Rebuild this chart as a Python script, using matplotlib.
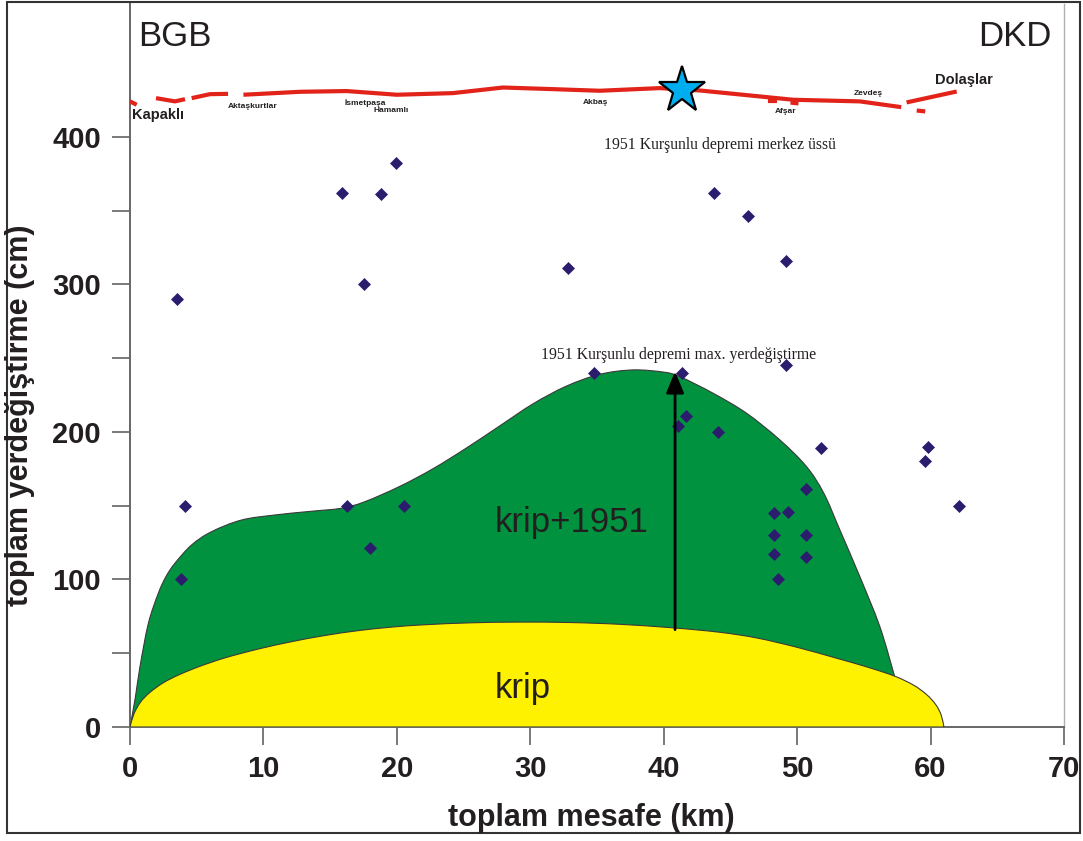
import matplotlib
matplotlib.use("Agg")
import matplotlib.pyplot as plt
from matplotlib.patches import PathPatch, Rectangle
from matplotlib.path import Path

# ---------------- data ----------------
# scattered displacement measurements (km, cm)
pts_x = [3.5, 4.1, 3.8, 15.9, 17.5, 18.8, 19.9, 16.3, 18.0, 20.5, 32.8, 34.8,
         41.4, 41.1, 41.7, 44.1, 43.8, 46.3, 49.2, 49.2, 51.8, 50.7, 48.3,
         49.3, 48.3, 50.7, 48.3, 50.7, 48.6, 59.6, 59.8, 62.1]
pts_y = [290, 150, 100, 362, 300, 361, 382, 150, 121, 150, 311, 240,
         240, 204, 211, 200, 362, 346, 316, 245, 189, 161, 145,
         146, 130, 130, 117, 115, 100, 180, 190, 150]

# creep envelope (yellow)
creep_x = [0, 0.3, 0.8, 1.5, 2.5, 3.7, 5.2, 7.1, 9.6, 12.1, 14.6, 17.1, 19.6,
           22.1, 25.5, 29.2, 33, 36.7, 40.7, 44.2, 47, 50, 53, 55.3, 57.3,
           58.7, 59.7, 60.4, 60.8, 61]
creep_y = [0, 9, 17, 23.5, 30, 35.5, 41, 46.8, 52.8, 57.8, 62, 65.3, 67.7,
           69.3, 70.6, 71.1, 70.8, 69.6, 67.2, 64.2, 60.3, 54, 46.5, 40.5, 34.5,
           28.5, 22, 15, 8, 0]

# creep + 1951 envelope (green)
tot_x = [0, 0.4, 0.75, 1.37, 2.12, 2.7, 3.37, 4.62, 6.12, 8.37, 10.87,
         13.34, 15.87, 17.6, 20.2, 22.7, 25.2, 27.7, 30.2, 32.7, 35.2,
         37.7, 40, 41.2, 43.7, 46.2, 48.7, 50.7, 52, 53.2, 54.7, 56.2, 57.3]
tot_y = [0, 20, 41, 70, 90.6, 102, 111, 123.4, 132.4, 140.3, 143.7,
         146, 148.3, 152.7, 163, 175, 189, 204, 219, 231, 239,
         242, 240.5, 237.5, 226.2, 212.7, 194.6, 176.5, 158.4, 133.6, 101.9, 68, 34.5]

# surface fault trace segments (km, plotted height)
fault_segments = [
    ([0, 0.5], [424, 421.7]),
    ([1.95, 3.37, 4.12], [426.2, 424, 425.5]),
    ([4.62, 6.0, 7.35], [426.2, 428.9, 429.1]),
    ([8.5, 12.74, 16.24, 20, 24.2, 27.95, 31.7, 35.2, 39.7, 42.7, 47.7, 49.7,
      54.7, 57.8],
     [428.5, 430.5, 431, 428.5, 429.6, 433.4, 432.3, 431.2, 433, 431.4, 426.9,
      425.1, 424, 420.1]),
    ([58.2, 61.96], [423.3, 430.7]),
    ([58.96, 59.6], [417.8, 417.2]),
    ([47.8, 48.5], [424.0, 424.0]),
    ([49.5, 50.1], [423.2, 422.6]),
]

# localities on the fault trace
places = ["Kapaklı", "Aktaşkurtlar", "İsmetpaşa", "Hamamlı", "Akbaş",
          "Afşar", "Zevdeş", "Dolaşlar"]
places_x = [0.15, 9.22, 17.6, 19.6, 34.9, 49.1, 55.3, 62.5]
places_y = [414.9, 420.3, 423.0, 417.6, 423.0, 417.0, 429.2, 438.6]

epicenter = (41.4, 432)
max_disp_x = 40.85
max_disp_y0, max_disp_y1 = 66, 241

x_ticks = [0, 10, 20, 30, 40, 50, 60, 70]
y_ticks_major = [0, 100, 200, 300, 400]
y_ticks_minor = [50, 150, 250, 350]


def smooth_path(xs, ys, tail=(), close=True):
    """Catmull-Rom curve through the given vertices, as cubic Bezier path."""
    P = list(zip(xs, ys))
    n = len(P)
    verts = [P[0]]
    codes = [Path.MOVETO]
    for i in range(n - 1):
        p0 = P[i - 1] if i > 0 else P[i]
        p1 = P[i]
        p2 = P[i + 1]
        p3 = P[i + 2] if i + 2 < n else P[i + 1]
        c1 = (p1[0] + (p2[0] - p0[0]) / 6, p1[1] + (p2[1] - p0[1]) / 6)
        c2 = (p2[0] - (p3[0] - p1[0]) / 6, p2[1] - (p3[1] - p1[1]) / 6)
        verts += [c1, c2, p2]
        codes += [Path.CURVE4] * 3
    for t in tail:
        verts.append(t)
        codes.append(Path.LINETO)
    if close:
        verts.append(P[0])
        codes.append(Path.CLOSEPOLY)
    return Path(verts, codes)


# ---------------- figure ----------------
W, H = 1083, 841
fig = plt.figure(figsize=(W / 100, H / 100), dpi=100)
ax = fig.add_axes([130 / W, 1 - 727 / H, (1064 - 130) / W, (727 - 4) / H])
ax.set_xlim(0, 70)
ax.set_ylim(0, 490)

txtc = "#231f20"
sans = ["Liberation Sans", "DejaVu Sans"]
serif = ["Liberation Serif", "DejaVu Serif"]

green = PathPatch(smooth_path(tot_x, tot_y, tail=[(57.3, 0)]),
                  facecolor="#00923f", edgecolor="#3a3a3a", lw=0.8, zorder=2)
ax.add_patch(green)
yellow = PathPatch(smooth_path(creep_x, creep_y), facecolor="#fff200",
                   edgecolor="#3a3a3a", lw=0.8, zorder=3)
ax.add_patch(yellow)

ax.plot(pts_x, pts_y, linestyle="none", marker="D", ms=6.3,
        mfc="#2b1c6e", mec="#2b1c6e", mew=0.5, zorder=5)

for sx, sy in fault_segments:
    ax.plot(sx, sy, color="#e2231a", lw=3.0, solid_capstyle="butt", zorder=4)

for nm, px, py in zip(places, places_x, places_y):
    if nm in ("Kapaklı", "Dolaşlar"):
        ax.text(px, py, nm, fontsize=10.5, fontweight="bold", family=sans,
                color=txtc, ha="left" if nm == "Kapaklı" else "center",
                va="center", zorder=6)
    else:
        ax.text(px, py, nm, fontsize=6, fontweight="bold", family=sans,
                color=txtc, ha="center", va="center", zorder=6)

ax.plot([epicenter[0]], [epicenter[1]], marker="*", ms=35, mfc="#00aeef",
        mec="black", mew=1.6, zorder=7)

ax.annotate("", xy=(max_disp_x, max_disp_y1), xytext=(max_disp_x, max_disp_y0),
            arrowprops=dict(arrowstyle="-|>,head_width=0.36,head_length=0.87",
                            mutation_scale=15, lw=2, color="black",
                            shrinkA=0, shrinkB=0), zorder=6)

ax.text(44.2, 394.6, "1951 Kurşunlu depremi merkez üssü", fontsize=11.3,
        family=serif, color=txtc, ha="center", va="center", zorder=6)
ax.text(41.1, 252.2, "1951 Kurşunlu depremi max. yerdeğiştirme", fontsize=11.3,
        family=serif, color=txtc, ha="center", va="center", zorder=6)

ax.text(0.6, 467.8, "BGB", fontsize=25, family=sans, color=txtc,
        ha="left", va="center")
ax.text(69.1, 467.8, "DKD", fontsize=25, family=sans, color=txtc,
        ha="right", va="center")
ax.text(33.1, 138.3, "krip+1951", fontsize=25, family=sans, color=txtc,
        ha="center", va="center", zorder=6)
ax.text(29.4, 26.4, "krip", fontsize=25, family=sans, color=txtc,
        ha="center", va="center", zorder=6)

# axes styling
ax.set_xticks(x_ticks)
ax.set_yticks(y_ticks_major)
ax.set_yticks(y_ticks_minor, minor=True)
ax.tick_params(axis="both", which="both", direction="out", length=13,
               width=1.1, color="#555555")
ax.tick_params(axis="y", which="major", pad=8)
ax.tick_params(axis="x", which="major", pad=7)
for lab in ax.get_xticklabels() + ax.get_yticklabels():
    lab.set_fontsize(21)
    lab.set_fontweight("bold")
    lab.set_family(sans)
    lab.set_color(txtc)
ax.spines["top"].set_visible(False)
ax.spines["left"].set_color("#666666")
ax.spines["bottom"].set_color("#666666")
ax.spines["left"].set_linewidth(1.4)
ax.spines["bottom"].set_linewidth(1.4)
ax.spines["right"].set_color("#b0b0b0")
ax.spines["right"].set_linewidth(1.0)
ax.set_facecolor("white")

fig.text(591 / W, 1 - 818 / H, "toplam mesafe (km)", fontsize=22,
         fontweight="bold", family=sans, color=txtc, ha="center", va="center")
fig.text(20 / W, 1 - 415 / H, "toplam yerdeğiştirme (cm)", fontsize=22,
         fontweight="bold", family=sans, color=txtc, ha="center", va="center",
         rotation=90)

fig.patches.append(Rectangle((7 / W, 8 / H), (1080 - 7) / W, (839 - 8) / H,
                             transform=fig.transFigure, fill=False,
                             edgecolor="#333333", lw=1.5))

fig.savefig("out.png", dpi=100)
